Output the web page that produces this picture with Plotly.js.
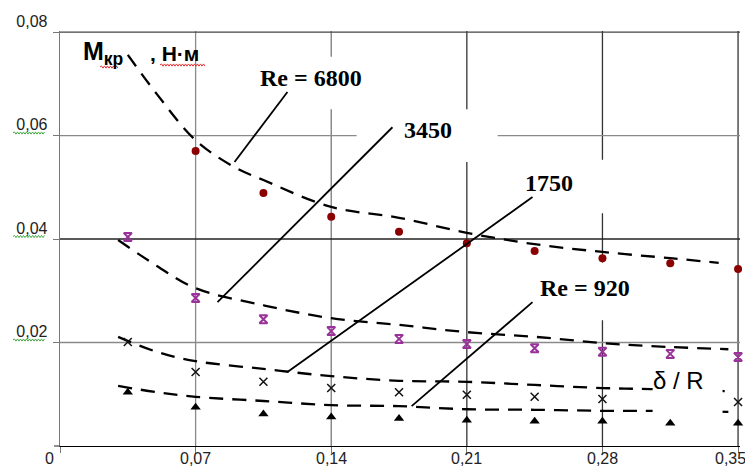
<!DOCTYPE html>
<html>
<head>
<meta charset="utf-8">
<script src="https://cdn.plot.ly/plotly-3.0.1.min.js"></script>
<style>html,body{margin:0;padding:0;background:#fff;}#chart{width:745px;height:466px;}</style>
</head>
<body>
<div id="chart"></div>
<script>
// ---- data ----
const ptsX = [0.035, 0.07, 0.105, 0.14, 0.175, 0.21, 0.245, 0.28, 0.315, 0.35];
const re6800X = [0.07, 0.105, 0.14, 0.175, 0.21, 0.245, 0.28, 0.315, 0.35];
const re6800Y = [0.0570, 0.0489, 0.0443, 0.0414, 0.0392, 0.0377, 0.0363, 0.0353, 0.0342];
const re3450Y = [0.0404, 0.0286, 0.0245, 0.0222, 0.0207, 0.0197, 0.0189, 0.0182, 0.0178, 0.0172];
const re1750X = [0.035, 0.07, 0.105, 0.14, 0.175, 0.21, 0.245, 0.28, 0.35];
const re1750Y = [0.0201, 0.0143, 0.0124, 0.0112, 0.0104, 0.0099, 0.0095, 0.0091, 0.0085];
const re920Y  = [0.0104, 0.0075, 0.0062, 0.0056, 0.0053, 0.0050, 0.0048, 0.0048, 0.0044, 0.0044];

// fitted (dashed) curves
const fit6800X = [0.035, 0.05, 0.07, 0.09, 0.105, 0.14, 0.175, 0.21, 0.245, 0.28, 0.315, 0.34];
const fit6800Y = [0.0756, 0.0680, 0.0591, 0.0539, 0.0514, 0.0462, 0.0441, 0.0412, 0.0390, 0.0375, 0.0363, 0.0354];
const fitX = [0.03, 0.05, 0.07, 0.105, 0.14, 0.175, 0.21, 0.245, 0.28, 0.305, 0.345];
const fit3450Y = [0.0398, 0.0348, 0.0305, 0.0272, 0.0247, 0.0234, 0.0220, 0.0211, 0.0199, 0.0193, 0.0187];
const fit1750Y = [0.0211, 0.0182, 0.0164, 0.0149, 0.0135, 0.0126, 0.0124, 0.0118, 0.0112, 0.0110, 0.0106];
const fit920Y  = [0.0116, 0.0104, 0.0095, 0.0087, 0.0079, 0.0077, 0.0071, 0.0070, 0.0068, 0.0068, 0.0066];

// axis ticks
const xTickVals = [0, 0.07, 0.14, 0.21, 0.28, 0.35];
const xTickText = ['0', '0,07', '0,14', '0,21', '0,28', '0,35'];
const yTickVals = [0.02, 0.04, 0.06, 0.08];
const yTickText = ['0,02', '0,04', '0,06', '0,08'];
const xLabelShift = [-11, 0, 0, 0, 0, -8];

// labels
const curveLabels = ['Re = 6800', '3450', '1750', 'Re = 920'];
const labelX = [0.1298, 0.1897, 0.2522, 0.2708];
const labelY = [0.0711, 0.0611, 0.0508, 0.0305];
// leader lines [x0,y0,x1,y1]
const leaders = [
  [0.1174, 0.0684, 0.0901, 0.0549],
  [0.1716, 0.0616, 0.0813, 0.0278],
  [0.2439, 0.0481, 0.1174, 0.0143],
  [0.2439, 0.0278, 0.1815, 0.0077]
];
// white label boxes [x0,x1,y0,y1]
const boxes = [
  [0.0937, 0.1665, 0.0651, 0.0752],
  [0.1531, 0.2259, 0.0549, 0.0651],
  [0.2171, 0.2842, 0.0450, 0.0553],
  [0.2346, 0.3069, 0.0243, 0.0354],
  [0.3059, 0.3420, 0.0062, 0.0162]
];
const gridXColors = ['#8a8a8a', '#7a7a7a', '#333333', '#333333', '#333333'];
const gridYColors = ['#8a8a8a', '#222222', '#8a8a8a', '#444444'];

const dash = '14px,9px';
const traces = [
  {x: fit6800X, y: fit6800Y, mode: 'lines', line: {color: '#000', width: 2.3, dash: dash, shape: 'spline'}},
  {x: fitX, y: fit3450Y, mode: 'lines', line: {color: '#000', width: 2.3, dash: dash, shape: 'spline'}},
  {x: fitX, y: fit1750Y, mode: 'lines', line: {color: '#000', width: 2.3, dash: dash, shape: 'spline'}},
  {x: fitX, y: fit920Y, mode: 'lines', line: {color: '#000', width: 2.3, dash: dash, shape: 'spline'}},
  {x: re6800X, y: re6800Y, mode: 'markers', cliponaxis: false,
   marker: {symbol: 'circle', size: 8, color: '#8b0000'}},
  {x: ptsX, y: re3450Y, mode: 'markers', cliponaxis: false,
   marker: {symbol: 'hourglass-open', size: 8, color: '#993399', line: {color: '#993399', width: 2}}},
  {x: re1750X, y: re1750Y, mode: 'markers', cliponaxis: false,
   marker: {symbol: 'x-thin-open', size: 8, color: '#111', line: {color: '#111', width: 1.5}}},
  {x: ptsX, y: re920Y, mode: 'markers', cliponaxis: false,
   marker: {symbol: 'triangle-up', size: 9, color: '#000'}}
];

function wavy(x0, x1, y) {
  let d = 'M' + x0 + ',' + y;
  let up = true;
  for (let x = x0 + 1.5; x <= x1; x += 1.5) { d += ' L' + x + ',' + (y + (up ? 1.1 : -1.1)); up = !up; }
  return d;
}

const shapes = [];
xTickVals.slice(1).forEach((v, i) => shapes.push({type: 'line', layer: 'below', xref: 'x', yref: 'paper',
  x0: v, x1: v, y0: 0, y1: 1, line: {color: gridXColors[i], width: 1.3}}));
yTickVals.forEach((v, i) => shapes.push({type: 'line', layer: 'below', xref: 'paper', yref: 'y',
  x0: 0, x1: 1, y0: v, y1: v, line: {color: gridYColors[i], width: 1.3}}));
// small outside tick at y = 0
shapes.push({type: 'line', layer: 'above', xref: 'paper', yref: 'paper', xsizemode: 'pixel', xanchor: 0,
  x0: -6, x1: 0, y0: 0, y1: 0, line: {color: '#555', width: 1.3}});
boxes.forEach(b => shapes.push({type: 'rect', layer: 'above', xref: 'x', yref: 'y',
  x0: b[0], x1: b[1], y0: b[2], y1: b[3], line: {width: 0}, fillcolor: '#fff'}));
leaders.forEach(l => shapes.push({type: 'line', layer: 'above', xref: 'x', yref: 'y',
  x0: l[0], y0: l[1], x1: l[2], y1: l[3], line: {color: '#000', width: 1.8}}));
// spell-check style wavy underlines
yTickVals.forEach(v => shapes.push({type: 'path', layer: 'above', xref: 'paper', yref: 'y',
  xsizemode: 'pixel', ysizemode: 'pixel', xanchor: 0, yanchor: v,
  path: wavy(-47, -15, 2.5), line: {color: '#44aa44', width: 1}}));
shapes.push({type: 'path', layer: 'above', xref: 'x', yref: 'y', xsizemode: 'pixel', ysizemode: 'pixel',
  xanchor: 0, yanchor: 0.08, path: wavy(40, 58, -35), line: {color: '#e03030', width: 1}});
shapes.push({type: 'path', layer: 'above', xref: 'x', yref: 'y', xsizemode: 'pixel', ysizemode: 'pixel',
  xanchor: 0, yanchor: 0.08, path: wavy(100, 145, -33), line: {color: '#e03030', width: 1}});

const serif = {family: 'Liberation Serif, Times New Roman, serif', size: 24, color: '#000'};
const sans = 'Liberation Sans, Arial, sans-serif';
const annotations = curveLabels.map((t, i) => ({
  x: labelX[i], y: labelY[i], xref: 'x', yref: 'y', text: '<b>' + t + '</b>', showarrow: false, font: serif
}));
annotations.push({x: 0.3193, y: 0.0126, xref: 'x', yref: 'y', text: 'δ / R', showarrow: false,
  font: {family: sans, size: 24, color: '#000'}});
annotations.push({x: 0.0106, y: 0.0759, xref: 'x', yref: 'y', xanchor: 'left', showarrow: false,
  text: '<b>M<sub>кр</sub></b>', font: {family: sans, size: 25, color: '#000'}});
annotations.push({x: 0.0455, y: 0.0759, xref: 'x', yref: 'y', xanchor: 'left', showarrow: false,
  text: '<b>, Н·м</b>', font: {family: sans, size: 21, color: '#000'}});
// x tick labels (the first and last sit off-centre in the original)
xTickVals.forEach((v, i) => annotations.push({x: v, y: 0, xref: 'x', yref: 'paper', yanchor: 'top',
  yshift: -2, xshift: xLabelShift[i], showarrow: false, text: xTickText[i],
  font: {family: sans, size: 16, color: '#222'}}));

const layout = {
  width: 745, height: 466,
  margin: {l: 60, r: 5, t: 31, b: 20, pad: 0},
  paper_bgcolor: '#fff', plot_bgcolor: '#fff',
  showlegend: false,
  xaxis: {range: [0, 0.351], showgrid: false, zeroline: false, showline: true, linecolor: '#000', linewidth: 1.3,
    tickvals: xTickVals, showticklabels: false, ticks: 'outside', ticklen: 6, tickcolor: '#777'},
  yaxis: {range: [0, 0.0802], showgrid: false, zeroline: false, showline: true, linecolor: '#777', linewidth: 1.3,
    tickvals: yTickVals, ticktext: yTickText,
    ticks: 'outside', ticklen: 6, tickcolor: '#777', ticklabelshift: -11, ticklabelstandoff: 2,
    tickfont: {family: sans, size: 16, color: '#222'}},
  shapes: shapes,
  annotations: annotations
};

Plotly.newPlot('chart', traces, layout, {displayModeBar: false, staticPlot: true});
</script>
</body>
</html>
